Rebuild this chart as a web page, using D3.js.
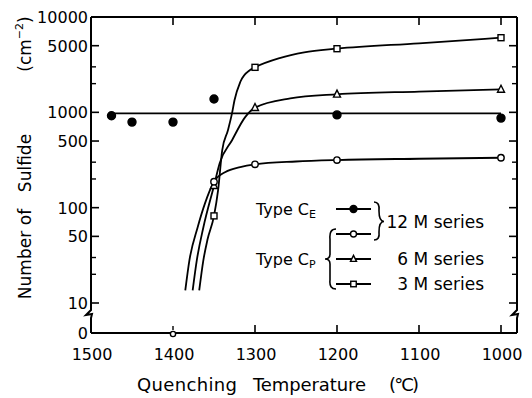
<!DOCTYPE html>
<html><head><meta charset="utf-8">
<script src="https://cdn.jsdelivr.net/npm/d3@7"></script>
<style>body{margin:0;background:#fff}svg{display:block}text{font-family:"DejaVu Sans",sans-serif;fill:#000}</style>
</head><body><svg id="c" width="532" height="398"></svg>
<script>
// ---- data ----
const xTicks = [1500, 1400, 1300, 1200, 1100, 1000];
const yTickLabels = [10000, 5000, 1000, 500, 100, 50, 10];
const yMinorTicks = [3000, 2000, 300, 200, 30, 20];
const ce12Temp = [1475, 1450, 1400, 1350, 1200, 1000];
const ce12Val = [920, 790, 790, 1380, 940, 870];
const cp12Temp = [1350, 1300, 1200, 1000];
const cp12Val = [187, 285, 316, 334];
const cp6Temp = [1350, 1300, 1200, 1000];
const cp6Val = [170, 1120, 1545, 1740];
const cp3Temp = [1350, 1300, 1200, 1000];
const cp3Val = [82, 2965, 4650, 6065];
const zeroTemp = [1400];
// fitted curves
const ce12FitTemp = [1472, 1000];
const ce12FitVal = [975, 975];
const cp12FitTemp = [1385, 1380, 1370, 1361, 1350, 1336, 1318, 1300, 1250, 1200, 1100, 1000];
const cp12FitVal = [13.6, 28, 62, 111, 187, 237, 267, 285, 305, 316, 326, 334];
const cp6FitTemp = [1376, 1371, 1363, 1350, 1343, 1328, 1312, 1300, 1257, 1200, 1100, 1000];
const cp6FitVal = [13.6, 28, 62, 170, 294, 510, 890, 1120, 1400, 1545, 1650, 1740];
const cp3FitTemp = [1368, 1363, 1358, 1350, 1345, 1340, 1333, 1328, 1325, 1318, 1306, 1300, 1270, 1240, 1200, 1100, 1000];
const cp3FitVal = [13.6, 28, 46, 82, 153, 400, 650, 980, 1340, 2080, 2780, 2965, 3700, 4250, 4650, 5300, 6065];

// ---- layout ----
const svg = d3.select("#c");
const L = 91, R = 517, T = 17, B = 333, Y10 = 303;
const x = d3.scaleLinear().domain([1500, 1000]).range([L, 501]);
const y = d3.scaleLog().domain([10, 10000]).range([Y10, T]);
const g = svg.append("g").attr("stroke", "#000").attr("fill", "none");

// frame
g.append("line").attr("x1", L).attr("x2", R).attr("y1", T).attr("y2", T).attr("stroke-width", 2);
g.append("line").attr("x1", L).attr("x2", R).attr("y1", B).attr("y2", B).attr("stroke-width", 2);
g.append("path").attr("stroke-width", 2).attr("d", `M${L},${T}V310L${L-5},315L${L+1},314L${L},318V${B}`);
g.append("path").attr("stroke-width", 2).attr("d", `M${R},${T}V310L${R-5},315L${R+1},314L${R},318V${B}`);

// x ticks
xTicks.filter(d => d < 1500).forEach(d => {
  g.append("line").attr("x1", x(d)).attr("x2", x(d)).attr("y1", T).attr("y2", T + 8).attr("stroke-width", 1.6);
  if (d !== 1400) g.append("line").attr("x1", x(d)).attr("x2", x(d)).attr("y1", B).attr("y2", B - 8).attr("stroke-width", 1.6);
});
svg.selectAll(".xl").data(xTicks).join("text").attr("x", d => x(d) + 1).attr("y", 360)
  .attr("text-anchor", "middle").attr("font-size", 16).text(d => d);

// y ticks
yTickLabels.filter(d => d < 10000).forEach(d => {
  g.append("line").attr("x1", L).attr("x2", L + 8).attr("y1", y(d)).attr("y2", y(d)).attr("stroke-width", 1.6);
  g.append("line").attr("x1", R).attr("x2", R - 8).attr("y1", y(d)).attr("y2", y(d)).attr("stroke-width", 1.6);
});
yMinorTicks.forEach(d => {
  g.append("line").attr("x1", L).attr("x2", L + 5).attr("y1", y(d)).attr("y2", y(d)).attr("stroke-width", 1.4);
  g.append("line").attr("x1", R).attr("x2", R - 5).attr("y1", y(d)).attr("y2", y(d)).attr("stroke-width", 1.4);
});
svg.selectAll(".yl").data(yTickLabels).join("text").attr("x", 88).attr("y", d => y(d) + 6)
  .attr("text-anchor", "end").attr("font-size", 16).text(d => d);
svg.append("text").attr("x", 88).attr("y", B + 6).attr("text-anchor", "end").attr("font-size", 16).text("0");

// axis titles
const xt = [["Quenching", 137, 100], ["Temperature", 253, 113], ["(°C)", 389, 30]];
xt.forEach(([s, px, w]) => svg.append("text").attr("x", px).attr("y", 391).attr("font-size", 18)
  .attr("textLength", w).attr("lengthAdjust", "spacing").text(s));
const yt = [["Number", 265], ["of", 217], ["Sulfide", 163]];
yt.forEach(([s, c]) => svg.append("text").attr("transform", `translate(31,${c}) rotate(-90)`)
  .attr("text-anchor", "middle").attr("font-size", 17).text(s));
const cm = svg.append("text").attr("transform", "translate(31,44) rotate(-90)").attr("text-anchor", "middle").attr("font-size", 17);
cm.append("tspan").text("(cm");
cm.append("tspan").attr("font-size", 11).attr("dy", -8).text("−2");
cm.append("tspan").attr("dy", 8).text(")");

// curves
const line = d3.line().x(d => x(d[0])).y(d => y(d[1])).curve(d3.curveMonotoneX);
const zipd = (a, b) => a.map((t, i) => [t, b[i]]);
[[ce12FitTemp, ce12FitVal], [cp12FitTemp, cp12FitVal], [cp6FitTemp, cp6FitVal], [cp3FitTemp, cp3FitVal]]
  .forEach(([a, b]) => g.append("path").attr("d", line(zipd(a, b))).attr("stroke-width", 1.8));

// markers
const circ = (cx, cy, r, fill) => g.append("circle").attr("cx", cx).attr("cy", cy).attr("r", r)
  .attr("fill", fill).attr("stroke-width", 1.4);
const sq = (cx, cy, s) => g.append("rect").attr("x", cx - s / 2).attr("y", cy - s / 2).attr("width", s).attr("height", s)
  .attr("fill", "#fff").attr("stroke-width", 1.4);
const tri = (cx, cy, s) => g.append("path").attr("d", `M${cx},${cy - s * 0.6}L${cx + s / 2},${cy + s * 0.4}L${cx - s / 2},${cy + s * 0.4}Z`)
  .attr("fill", "#fff").attr("stroke-width", 1.4);
ce12Temp.forEach((t, i) => circ(x(t), y(ce12Val[i]), 4, "#000"));
cp6Temp.forEach((t, i) => tri(x(t), y(cp6Val[i]), 7));
cp12Temp.forEach((t, i) => circ(x(t), y(cp12Val[i]), 3.2, "#fff"));
cp3Temp.forEach((t, i) => sq(x(t), y(cp3Val[i]), 6));
zeroTemp.forEach(t => {
  g.append("line").attr("x1", x(t)).attr("x2", x(t)).attr("y1", B - 7).attr("y2", B - 3).attr("stroke-width", 1.4);
  circ(x(t), B + 1, 2.6, "#fff");
});

// legend
const rows = [209, 234, 259, 284];
const lx1 = 336, lx2 = 371, lm = 353.5;
rows.forEach(ry => g.append("line").attr("x1", lx1).attr("x2", lx2).attr("y1", ry).attr("y2", ry).attr("stroke-width", 1.8));
circ(lm, rows[0], 3.5, "#000");
circ(lm, rows[1], 3, "#fff");
tri(lm, rows[2], 6);
sq(lm, rows[3], 5.5);
// braces
g.append("path").attr("stroke-width", 1.6).attr("d",
  `M374,${rows[0]-7} Q380,${rows[0]-7} 379,${rows[0]+2} Q379,${(rows[0]+rows[1])/2} 384,${(rows[0]+rows[1])/2}` +
  ` Q379,${(rows[0]+rows[1])/2} 379,${rows[1]-2} Q380,${rows[1]+6} 374,${rows[1]+6}`);
g.append("path").attr("stroke-width", 1.6).attr("d",
  `M336,${rows[1]-5} Q329,${rows[1]-5} 330,${rows[1]+5} L330,${rows[2]-5} Q330,${rows[2]} 325,${rows[2]}` +
  ` Q330,${rows[2]} 330,${rows[2]+5} L330,${rows[3]-4} Q329,${rows[3]+5} 336,${rows[3]+5}`);
const typ = (ty, sub) => {
  const t = svg.append("text").attr("x", 256).attr("y", ty + 6).attr("font-size", 16);
  t.append("tspan").text("Type C");
  t.append("tspan").attr("font-size", 11).attr("dy", 3).text(sub);
};
typ(rows[0], "E");
typ(rows[2], "P");
const ser = [["12 M series", (rows[0] + rows[1]) / 2], ["6 M series", rows[2]], ["3 M series", rows[3]]];
ser.forEach(([s, sy]) => svg.append("text").attr("x", 484).attr("y", sy + 6).attr("text-anchor", "end")
  .attr("font-size", 17).text(s));
</script></body></html>
